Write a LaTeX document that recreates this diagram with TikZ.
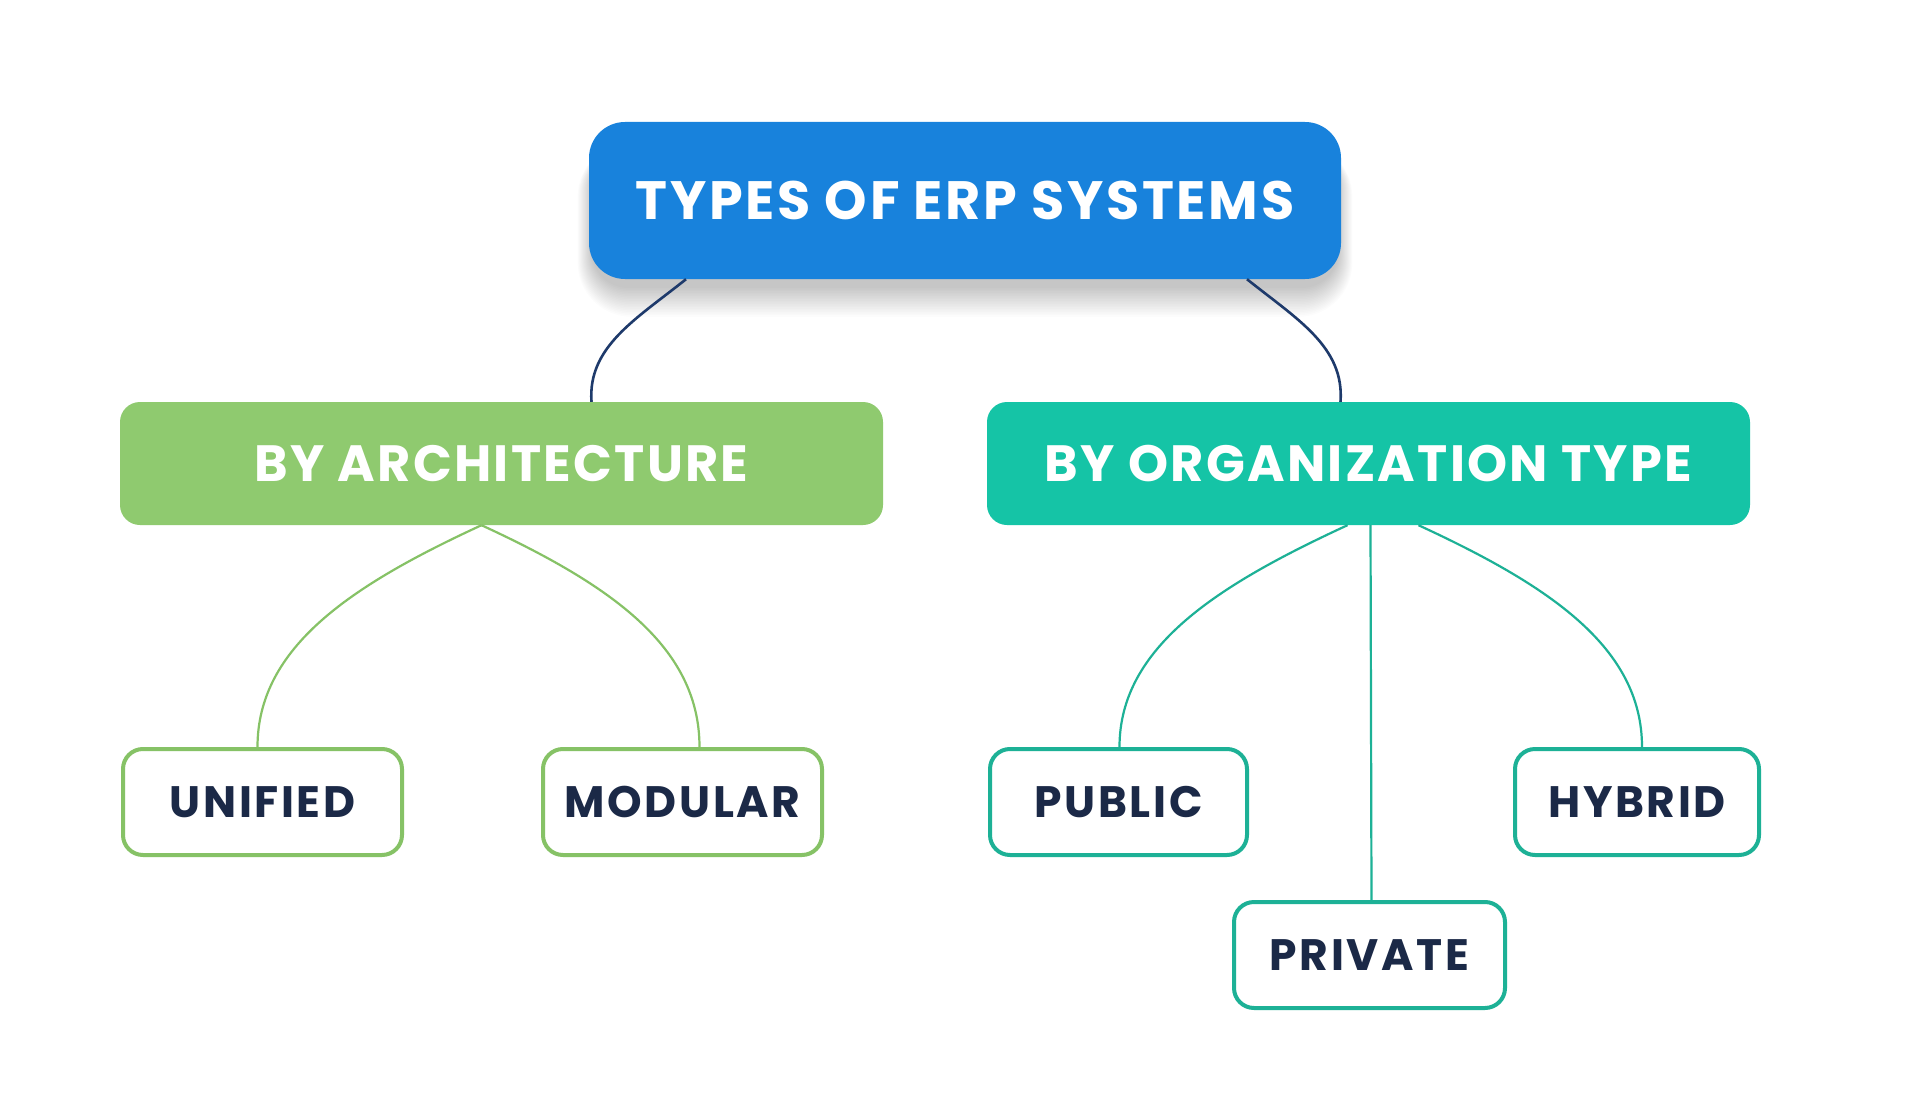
\documentclass[tikz,border=0pt]{standalone}
\usepackage{fontspec}
\setmainfont{Poppins}[UprightFont=* Bold]
\newfontfamily\titlefont{Poppins}[UprightFont=* Bold, LetterSpace=5]
\newfontfamily\midfont{Poppins}[UprightFont=* Bold, LetterSpace=4.5]
\newfontfamily\leaffont{Poppins}[UprightFont=* Bold, LetterSpace=6]
\definecolor{topblue}{HTML}{1882DC}
\definecolor{archgreen}{HTML}{8FCA6F}
\definecolor{orgteal}{HTML}{15C4A6}
\definecolor{navy}{HTML}{1B2947}
\definecolor{linenavy}{HTML}{1E3A6B}
\definecolor{greenline}{HTML}{86C266}
\definecolor{tealline}{HTML}{1DB196}
\tikzset{
  topbox/.style={fill=topblue, text=white, rounded corners=36pt, minimum width=752pt, minimum height=157pt, inner sep=0pt, font=\titlefont\fontsize{54}{60}\selectfont},
  midbox/.style={text=white, rounded corners=20pt, minimum width=763pt, minimum height=123pt, inner sep=0pt, font=\midfont\fontsize{51}{60}\selectfont},
  leafbox/.style={draw, line width=4pt, fill=white, text=navy, rounded corners=20pt, minimum height=106pt, inner sep=0pt, font=\leaffont\fontsize{44}{50}\selectfont},
  topline/.style={draw=linenavy, line width=2.6pt},
  gline/.style={draw=greenline, line width=2.2pt},
  tline/.style={draw=tealline, line width=2.2pt},
  softshadow/.style={fill=black, fill opacity=0.012, draw=none}
}
\begin{document}
\begin{tikzpicture}[x=1pt,y=-1pt]
\useasboundingbox[fill=white] (0,0) rectangle (1920,1113);
% soft shadow under the title box
\foreach \g in {0,2,...,36}{
  \fill[softshadow, rounded corners={36+\g*0.5}] (592-\g*0.4,150-\g*0.2) rectangle (1338+\g*0.4,288+\g*0.8);
}
% nodes
\node[topbox] (top) at (965,200.5) {TYPES OF ERP SYSTEMS};
\node[midbox, fill=archgreen] (arch) at (501.5,463.5) {BY ARCHITECTURE};
\node[midbox, fill=orgteal] (org) at (1368.5,463.5) {BY ORGANIZATION TYPE};
\node[leafbox, draw=greenline, minimum width=279pt] (uni) at (262.5,802) {UNIFIED};
\node[leafbox, draw=greenline, minimum width=279pt] (mod) at (682.5,802) {MODULAR};
\node[leafbox, draw=tealline, minimum width=257pt] (pub) at (1118.5,802) {PUBLIC};
\node[leafbox, draw=tealline, minimum width=244pt] (hyb) at (1637,802) {HYBRID};
\node[leafbox, draw=tealline, minimum width=271pt] (pri) at (1369.5,955) {PRIVATE};
% connectors
\draw[topline] ([xshift=-279pt]top.south) .. controls +(-50,40) and +(-4,-55) .. ([xshift=90pt]arch.north);
\draw[topline] ([xshift=282pt]top.south) .. controls +(50,40) and +(4,-55) .. ([xshift=-28pt]org.north);
\draw[gline] ([xshift=-20pt]arch.south) .. controls +(-130,60) and +(0,-100) .. ([xshift=-5pt]uni.north);
\draw[gline] ([xshift=-20pt]arch.south) .. controls +(130,60) and +(0,-100) .. ([xshift=17pt]mod.north);
\draw[tline] ([xshift=-21pt]org.south) .. controls +(-130,60) and +(0,-100) .. ([xshift=1pt]pub.north);
\draw[tline] ([xshift=50pt]org.south) .. controls +(130,60) and +(0,-100) .. ([xshift=5pt]hyb.north);
\draw[tline] ([xshift=2pt]org.south) -- ([xshift=2pt]pri.north);
\end{tikzpicture}
\end{document}
